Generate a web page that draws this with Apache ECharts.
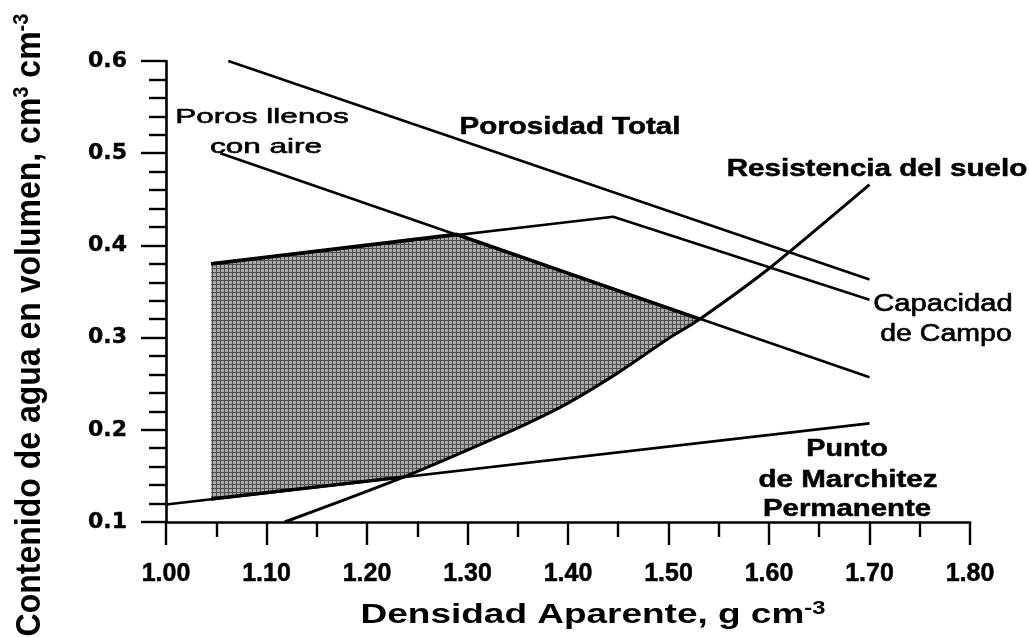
<!DOCTYPE html>
<html>
<head>
<meta charset="utf-8">
<script src="https://cdn.jsdelivr.net/npm/echarts@6.0.0/dist/echarts.min.js"></script>
<style>
  html, body { margin: 0; padding: 0; background: #fff; }
  #chart { width: 1029px; height: 637px; }
</style>
</head>
<body>
<div id="chart"></div>
<script>
// curves, [densidad aparente, contenido de agua]
const porosidadTotal = [[1.062, 0.600], [1.700, 0.363]];
const porosAire = [[1.054, 0.500], [1.700, 0.257]];
const capacidadCampo = [[1.045, 0.380], [1.445, 0.431], [1.700, 0.341]];
const puntoMarchitez = [[1.000, 0.119], [1.700, 0.207]];
const resistencia = [
  [1.118, 0.100], [1.170, 0.121], [1.237, 0.149], [1.300, 0.178],
  [1.350, 0.202], [1.400, 0.229], [1.450, 0.262], [1.500, 0.299],
  [1.531, 0.320], [1.600, 0.375], [1.700, 0.466]
];
// shaded region (first edge, the left side, has no border)
const intervaloOptimo = [
  [1.045, 0.125], [1.045, 0.380], [1.289, 0.412], [1.531, 0.320],
  [1.500, 0.299], [1.450, 0.262], [1.400, 0.229], [1.350, 0.202],
  [1.300, 0.178], [1.237, 0.149], [1.045, 0.125]
];

const SANS = '"Liberation Sans", Arial, sans-serif';

function makeHatch() {
  const c = document.createElement("canvas");
  c.width = 4;
  c.height = 4;
  const ctx = c.getContext("2d");
  ctx.fillStyle = "#ababab";
  ctx.fillRect(0, 0, 4, 4);
  ctx.fillStyle = "#4e4e4e";
  ctx.fillRect(0, 0, 4, 1);
  ctx.fillRect(0, 0, 1, 4);
  return c;
}
const hatch = { image: makeHatch(), repeat: "repeat" };

function lineSeries(data, width, smooth) {
  return {
    type: "line",
    data: data,
    symbol: "none",
    silent: true,
    smooth: smooth || false,
    z: 4,
    lineStyle: { color: "#000", width: width },
  };
}

function label(text, x, y, weight, size, sx, stroke) {
  const style = {
    text: text,
    font: weight + " " + size + "px " + SANS,
    fill: "#000",
    align: "center",
    verticalAlign: "middle",
    textAlign: "center",
    textVerticalAlign: "middle",
  };
  if (stroke) {
    style.stroke = "#000";
    style.lineWidth = stroke;
  }
  return { type: "text", x: x, y: y, scaleX: sx, silent: true, style: style };
}

const chart = echarts.init(document.getElementById("chart"));

const option = {
  animation: false,
  backgroundColor: "#fff",
  grid: { left: 166, right: 59, top: 61, bottom: 115 },
  xAxis: {
    type: "value",
    min: 1.0,
    max: 1.8,
    interval: 0.1,
    axisLine: { onZero: false, lineStyle: { color: "#000", width: 2.6 } },
    axisTick: { length: 23, lineStyle: { color: "#000", width: 2.4 } },
    minorTick: { show: true, splitNumber: 2, length: 15, lineStyle: { color: "#000", width: 2.4 } },
    splitLine: { show: false },
    axisLabel: {
      margin: 40,
      color: "#000",
      fontFamily: SANS,
      fontWeight: "bold",
      fontSize: 25,
      textBorderColor: "#000",
      textBorderWidth: 0.5,
      formatter: (v) => v.toFixed(2),
    },
  },
  yAxis: {
    type: "value",
    min: 0.1,
    max: 0.6,
    interval: 0.1,
    axisLine: { onZero: false, lineStyle: { color: "#000", width: 2.6 } },
    axisTick: { length: 25, lineStyle: { color: "#000", width: 2.4 } },
    minorTick: { show: true, splitNumber: 5, length: 17, lineStyle: { color: "#000", width: 2.4 } },
    splitLine: { show: false },
    axisLabel: {
      margin: 39,
      color: "#000",
      fontFamily: '"DejaVu Sans", sans-serif',
      fontWeight: "bold",
      fontSize: 22,
      textBorderColor: "#000",
      textBorderWidth: 0.4,
      formatter: (v) => v.toFixed(1),
    },
  },
  series: [
    lineSeries(porosidadTotal, 2.6),
    lineSeries(porosAire, 2.6),
    lineSeries(capacidadCampo, 2.6),
    lineSeries(puntoMarchitez, 2.6),
    lineSeries(resistencia, 3, 0.2),
    {
      type: "custom",
      data: intervaloOptimo,
      encode: { x: 0, y: 1 },
      silent: true,
      z: 3,
      renderItem: function (params, api) {
        if (params.dataIndex !== 0) return null;
        const pts = intervaloOptimo.map((p) => api.coord(p));
        const n = pts.length;
        return {
          type: "group",
          children: [
            { type: "polygon", shape: { points: pts }, style: { fill: hatch, stroke: null } },
            {
              type: "polyline",
              shape: { points: pts.slice(1, 4) },
              style: { stroke: "#000", lineWidth: 3.6, fill: null },
            },
            {
              type: "polyline",
              shape: { points: pts.slice(n - 2) },
              style: { stroke: "#000", lineWidth: 3.4, fill: null },
            },
          ],
        };
      },
    },
  ],
  graphic: [
    label("Poros llenos", 262, 117, "normal", 21, 1.5, 0.6),
    label("con aire", 266, 147, "normal", 21, 1.5, 0.6),
    label("Porosidad Total", 570, 127, "bold", 24, 1.23, 0.5),
    label("Resistencia del suelo", 877, 170, "bold", 23, 1.285, 0.5),
    label("Capacidad", 943, 305, "normal", 23, 1.27, 0.6),
    label("de Campo", 946, 335, "normal", 23, 1.24, 0.6),
    label("Punto", 847, 450, "bold", 23, 1.25, 0.5),
    label("de Marchitez", 848, 481, "bold", 23, 1.285, 0.5),
    label("Permanente", 847, 510, "bold", 23, 1.276, 0.5),
    {
      type: "text",
      x: 593,
      y: 615,
      scaleX: 1.32,
      silent: true,
      style: {
        text: "{a|Densidad Aparente, g cm}{s|-3}",
        align: "center",
        verticalAlign: "middle",
        textAlign: "center",
        textVerticalAlign: "middle",
        rich: {
          a: { font: "bold 28px " + SANS, fill: "#000", lineHeight: 30 },
          s: { font: "bold 18px " + SANS, fill: "#000", lineHeight: 18, verticalAlign: "top" },
        },
      },
    },
    {
      type: "text",
      x: 30,
      y: 325,
      rotation: Math.PI / 2,
      scaleY: 1.08,
      silent: true,
      style: {
        text: "{a|Contenido de agua en volumen, cm}{s|3}{a| cm}{s|-3}",
        align: "center",
        verticalAlign: "middle",
        textAlign: "center",
        textVerticalAlign: "middle",
        rich: {
          a: { font: "bold 32px " + SANS, fill: "#000", lineHeight: 34 },
          s: { font: "bold 20px " + SANS, fill: "#000", lineHeight: 20, verticalAlign: "top" },
        },
      },
    },
  ],
};

chart.setOption(option);
</script>
</body>
</html>
